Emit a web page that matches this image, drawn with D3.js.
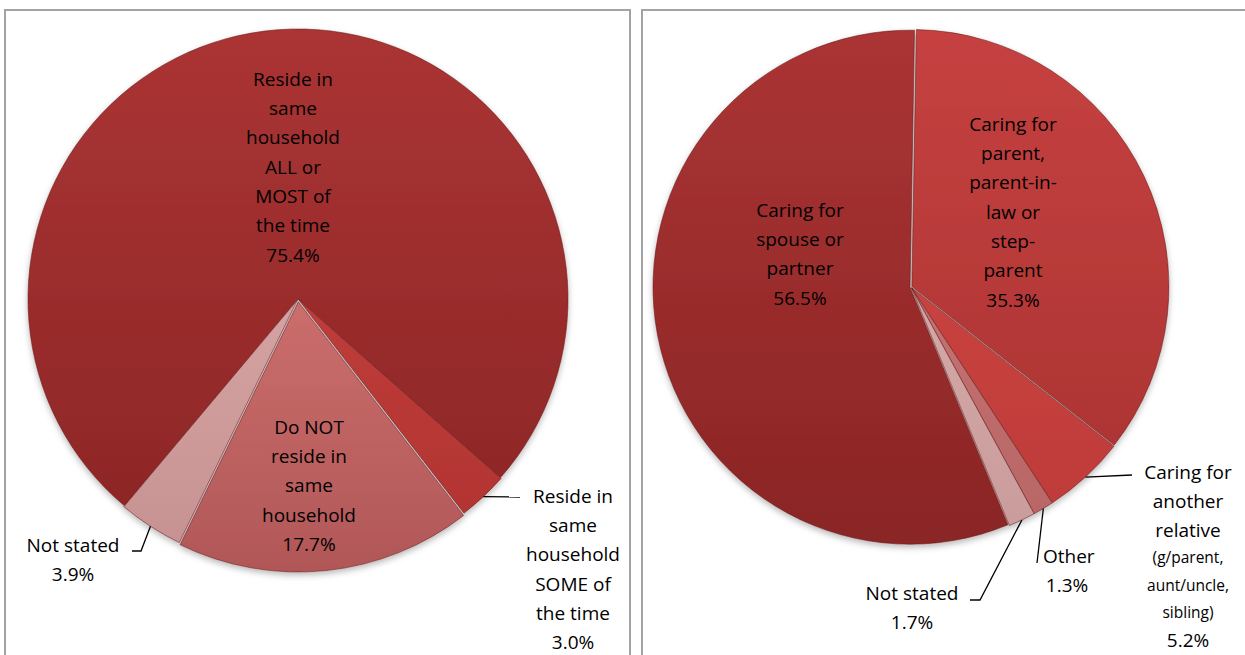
<!DOCTYPE html>
<html>
<head>
<meta charset="utf-8">
<script src="https://cdn.jsdelivr.net/npm/d3@7"></script>
<style>
  body { margin: 0; background: #fff; }
  svg text { font-family: "Open Sans", Lato, sans-serif; fill: #000; }
</style>
</head>
<body>
<div id="chart"></div>
<script>
// ---- data ----
var leftCategories = ["Reside in same household ALL or MOST of the time",
                      "Reside in same household SOME of the time",
                      "Do NOT reside in same household",
                      "Not stated"];
var leftValues = [75.4, 3.0, 17.7, 3.9];
var leftLabels = [
    ["Reside in", "same", "household", "ALL or", "MOST of", "the time", "75.4%"],
    ["Reside in", "same", "household", "SOME of", "the time", "3.0%"],
    ["Do NOT", "reside in", "same", "household", "17.7%"],
    ["Not stated", "3.9%"]
];

var rightCategories = ["Caring for parent, parent-in-law or step-parent",
                       "Caring for another relative (g/parent, aunt/uncle, sibling)",
                       "Other",
                       "Not stated",
                       "Caring for spouse or partner"];
var rightValues = [35.3, 5.2, 1.3, 1.7, 56.5];
var rightLabels = [
    ["Caring for", "parent,", "parent-in-", "law or", "step-", "parent", "35.3%"],
    ["Caring for", "another", "relative", "(g/parent,", "aunt/uncle,", "sibling)", "5.2%"],
    ["Other", "1.3%"],
    ["Not stated", "1.7%"],
    ["Caring for", "spouse or", "partner", "56.5%"]
];

// ---- styling / layout ----
var width = 1245, height = 655;
var lineH = 29.3;

var svg = d3.select("#chart").append("svg")
    .attr("width", width)
    .attr("height", height);

var defs = svg.append("defs");

var shadow = defs.append("filter").attr("id", "shadow")
    .attr("x", "-10%").attr("y", "-10%").attr("width", "120%").attr("height", "120%");
shadow.append("feDropShadow")
    .attr("dx", 0).attr("dy", 3).attr("stdDeviation", 3)
    .attr("flood-color", "#000").attr("flood-opacity", 0.28);

// panel frames
svg.append("rect")
    .attr("x", 5).attr("y", 10).attr("width", 625).attr("height", 660)
    .attr("fill", "none").attr("stroke", "#a3a3a3").attr("stroke-width", 2);
svg.append("rect")
    .attr("x", 642).attr("y", 10).attr("width", 620).attr("height", 660)
    .attr("fill", "none").attr("stroke", "#a3a3a3").attr("stroke-width", 2);

function drawPie(cfg) {
    var g = svg.append("g")
        .attr("transform", "translate(" + cfg.cx + "," + cfg.cy + ")");

    var pie = d3.pie()
        .sort(null)
        .startAngle(cfg.start * Math.PI / 180)
        .endAngle(cfg.start * Math.PI / 180 + 2 * Math.PI)
        .value(function(d) { return d; });

    var arcs = pie(cfg.values);

    var arc = d3.arc().innerRadius(0).outerRadius(cfg.r);

    // vertical gradients per slice
    cfg.colors.forEach(function(c, i) {
        var gr = defs.append("linearGradient")
            .attr("id", cfg.id + "-grad" + i)
            .attr("gradientUnits", "userSpaceOnUse")
            .attr("x1", 0).attr("y1", -cfg.r).attr("x2", 0).attr("y2", cfg.r);
        gr.append("stop").attr("offset", "0%").attr("stop-color", c[0]);
        gr.append("stop").attr("offset", "100%").attr("stop-color", c[1]);
    });

    var slices = g.append("g").attr("filter", "url(#shadow)");

    slices.selectAll("path")
        .data(arcs)
        .enter()
        .append("path")
        .attr("d", arc)
        .attr("transform", function(d, i) {
            var e = cfg.explode[i] || 0;
            var a = (d.startAngle + d.endAngle) / 2;
            return "translate(" + (Math.sin(a) * e) + "," + (-Math.cos(a) * e) + ")";
        })
        .attr("fill", function(d, i) { return "url(#" + cfg.id + "-grad" + i + ")"; })
        .attr("stroke", "#6a1a1a")
        .attr("stroke-opacity", 0.55)
        .attr("stroke-width", 1);

    // labels
    arcs.forEach(function(d, i) {
        var lay = cfg.layout[i];
        var lines = cfg.labels[i];
        var a = (d.startAngle + d.endAngle) / 2;

        if (lay.leader) {
            var pts = [[Math.sin(a) * (cfg.r + 1), -Math.cos(a) * (cfg.r + 1)]].concat(lay.leader);
            g.append("path")
                .attr("d", d3.line()(pts))
                .attr("fill", "none")
                .attr("stroke", "#000")
                .attr("stroke-width", 1.3);
        }

        var y = lay.y;
        lines.forEach(function(t, j) {
            var small = lay.small && lay.small.indexOf(j) >= 0;
            var tx = (lay.anchor === "start" && j === 0) ? lay.x0 : lay.x;
            g.append("text")
                .attr("x", tx)
                .attr("y", y)
                .attr("dy", "0.36em")
                .attr("text-anchor", (lay.anchor === "start" && j === 0) ? "start" : "middle")
                .style("font-size", small ? "15.5px" : "19px")
                .text(t);
            var next = lay.small && lay.small.indexOf(j + 1) >= 0;
            y += (small || next) ? 27.3 : lineH;
        });
    });
}

drawPie({
    id: "left", cx: 298, cy: 299, r: 270, start: -140,
    values: leftValues, labels: leftLabels,
    explode: [0, 1, 3, 1],
    colors: [["#ab3434", "#8a2525"], ["#cc4541", "#b03331"],
             ["#e58482", "#b15757"], ["#e3b5b5", "#c69090"]],
    layout: [
        { x: -5, y: -220 },
        { x: 275, y: 197, leader: [[222, 198]] },
        { x: 11, y: 128 },
        { x: -225, y: 246, leader: [[-157, 252], [-166, 252]] }
    ]
});

drawPie({
    id: "right", cx: 911, cy: 287, r: 257, start: 1,
    values: rightValues, labels: rightLabels,
    explode: [1, 1, 1, 1, 1],
    colors: [["#c64140", "#a83231"], ["#d34b48", "#bd3a38"],
             ["#cf8080", "#b86464"], ["#e2b7b7", "#c99b9b"],
             ["#ab3434", "#8a2525"]],
    layout: [
        { x: 102, y: -163 },
        { x: 277, y: 185, leader: [[221, 188]], small: [3, 4, 5] },
        { x: 156, x0: 132, y: 269, anchor: "start", leader: [[126, 276]] },
        { x: 1, y: 306, leader: [[69, 313], [59, 313]] },
        { x: -111, y: -77 }
    ]
});
</script>
</body>
</html>
